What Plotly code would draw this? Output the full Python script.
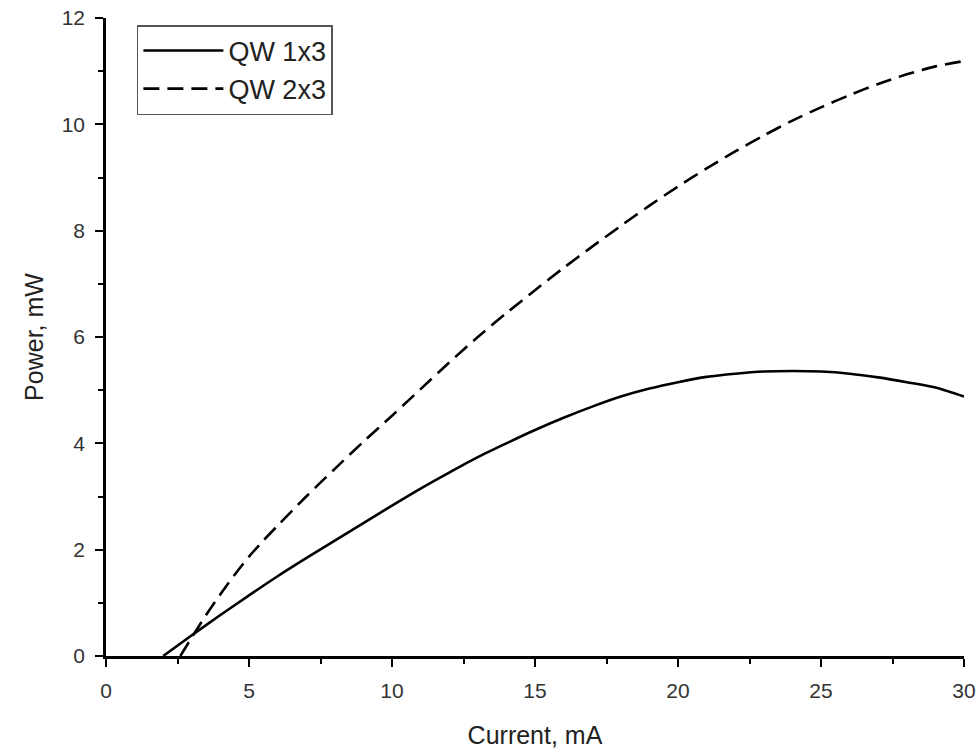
import plotly.graph_objects as go

# Data
current_1x3 = [2.0, 3.0, 4.0, 5.0, 6.0, 7.0, 8.0, 9.0, 10.0, 11.0, 12.0, 13.0, 14.0, 15.0,
               16.0, 17.0, 18.0, 19.0, 20.0, 21.0, 22.0, 23.0, 24.0, 25.0, 26.0, 27.0,
               28.0, 29.0, 30.0]
power_1x3 = [0.0, 0.39, 0.77, 1.14, 1.5, 1.84, 2.17, 2.5, 2.83, 3.15, 3.45, 3.74, 4.0, 4.25,
             4.48, 4.69, 4.88, 5.03, 5.15, 5.25, 5.31, 5.35, 5.36, 5.35, 5.31, 5.24,
             5.15, 5.05, 4.88]

current_2x3 = [2.6, 3.0, 3.5, 4.0, 4.5, 5.0, 5.5, 6.0, 7.0, 8.0, 9.0, 10.0, 11.0, 12.0,
               13.0, 14.0, 15.0, 16.0, 17.0, 18.0, 19.0, 20.0, 21.0, 22.0, 23.0, 24.0,
               25.0, 26.0, 27.0, 28.0, 29.0, 30.0]
power_2x3 = [0.0, 0.35, 0.77, 1.16, 1.53, 1.87, 2.17, 2.45, 3.0, 3.52, 4.03, 4.52, 5.02,
             5.52, 6.0, 6.45, 6.88, 7.3, 7.7, 8.09, 8.47, 8.83, 9.17, 9.49, 9.79, 10.07,
             10.32, 10.55, 10.76, 10.94, 11.09, 11.19]

x_ticks = [0, 5, 10, 15, 20, 25, 30]
y_ticks = [0, 2, 4, 6, 8, 10, 12]

FONT = "Liberation Sans, Arial, sans-serif"

fig = go.Figure()
fig.add_trace(go.Scatter(
    x=current_1x3, y=power_1x3, name="QW 1x3", mode="lines",
    line=dict(color="black", width=2.6, shape="spline", smoothing=0.8),
))
fig.add_trace(go.Scatter(
    x=current_2x3, y=power_2x3, name="QW 2x3", mode="lines",
    line=dict(color="black", width=2.6, dash="16px,8px", shape="spline", smoothing=0.8),
))

axis_common = dict(
    showline=True, linecolor="black", linewidth=2.5,
    ticks="outside", ticklen=8, tickwidth=2, tickcolor="black",
    showgrid=False, zeroline=False, mirror=False, automargin=False,
    tickfont=dict(family=FONT, size=21, color="#333333"),
)

fig.update_xaxes(
    range=[0, 30], tickvals=x_ticks, ticktext=[str(v) for v in x_ticks],
    minor=dict(ticks="outside", ticklen=5, tickwidth=2, tickcolor="black", dtick=2.5, tick0=0),
    title=dict(text="Current, mA", font=dict(family=FONT, size=25, color="#222222"), standoff=26),
    ticklabelstandoff=6,
    **axis_common,
)
fig.update_yaxes(
    range=[0, 12], tickvals=y_ticks, ticktext=[str(v) for v in y_ticks],
    minor=dict(ticks="outside", ticklen=5, tickwidth=2, tickcolor="black", dtick=1, tick0=0),
    title=dict(text="Power, mW", font=dict(family=FONT, size=25, color="#222222"), standoff=11),
    ticklabelstandoff=6,
    **axis_common,
)

fig.update_layout(
    width=980, height=752,
    margin=dict(l=106, r=16, t=18, b=96),
    paper_bgcolor="white", plot_bgcolor="white",
    showlegend=True,
    legend=dict(
        x=0.036, y=0.989, xanchor="left", yanchor="top",
        bgcolor="white", bordercolor="#555555", borderwidth=1.5,
        font=dict(family=FONT, size=27, color="#222222"),
        itemwidth=80, tracegroupgap=0,
    ),
)

fig.write_html("out.html")
